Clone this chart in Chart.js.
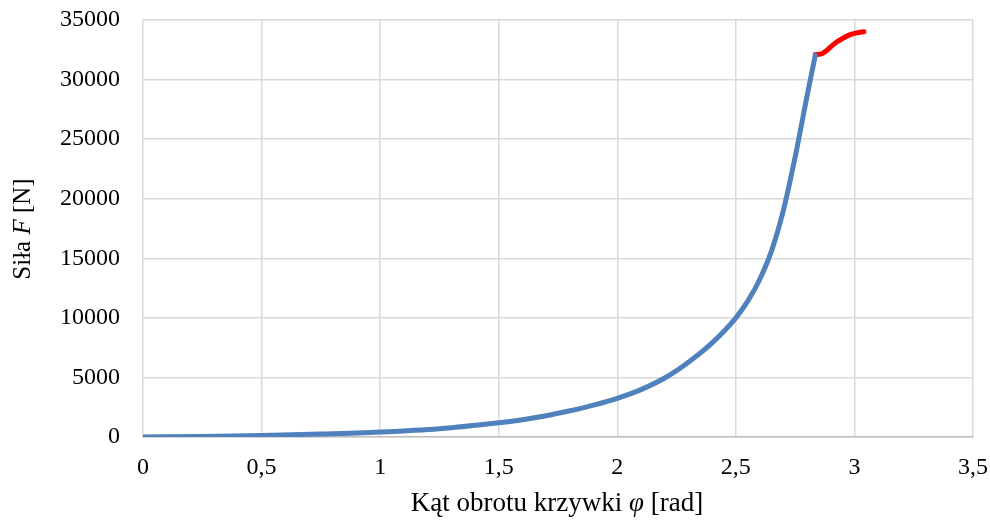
<!DOCTYPE html>
<html>
<head>
<meta charset="utf-8">
<script src="https://cdn.jsdelivr.net/npm/chart.js@4/dist/chart.umd.min.js"></script>
<style>
  html, body { margin: 0; padding: 0; background: #fff; }
  #wrap { width: 990px; height: 522px; }
</style>
</head>
<body>
<div id="wrap"><canvas id="render"></canvas></div>
<script>
// blue part of the curve: angle [rad] / force [N]
const phiMain = [0, 0.25, 0.5, 0.75, 1.0, 1.25, 1.5, 1.6, 1.7, 1.8, 1.9, 2.0, 2.1, 2.2, 2.3, 2.4, 2.5, 2.55, 2.6, 2.65, 2.7, 2.75, 2.8, 2.835];
const forceMain = [0, 50, 130, 250, 420, 700, 1200, 1450, 1780, 2200, 2680, 3250, 3980, 4950, 6280, 7900, 10000, 11400, 13200, 15600, 19000, 23500, 28600, 32050];

// red end part
const phiEnd = [2.835, 2.86, 2.88, 2.9, 2.925, 2.95, 2.98, 3.01, 3.04];
const forceEnd = [32100, 32150, 32400, 32750, 33150, 33450, 33750, 33920, 34020];

const xTicks = [0, 0.5, 1, 1.5, 2, 2.5, 3, 3.5];
const yTicks = [0, 5000, 10000, 15000, 20000, 25000, 30000, 35000];

const serif = "'Liberation Serif', 'Times New Roman', serif";

function pts(xs, ys) {
  return xs.map((x, i) => ({ x: x, y: ys[i] }));
}

// axis titles with italic symbols
const titles = {
  id: 'titles',
  afterDraw(chart) {
    const c = chart.ctx;
    const drawParts = (parts, size, cx, cy) => {
      let w = 0;
      parts.forEach(p => {
        c.font = (p.i ? 'italic ' : '') + size + 'px ' + serif;
        p.w = c.measureText(p.t).width;
        w += p.w;
      });
      let x = cx - w / 2;
      parts.forEach(p => {
        c.font = (p.i ? 'italic ' : '') + size + 'px ' + serif;
        c.fillText(p.t, x, cy);
        x += p.w;
      });
    };
    c.save();
    c.fillStyle = '#000';
    c.textBaseline = 'middle';
    c.textAlign = 'left';
    drawParts([{ t: 'Kąt obrotu krzywki ' }, { t: 'φ', i: true }, { t: ' [rad]' }], 27, 557, 504);
    c.translate(23, 229);
    c.rotate(-Math.PI / 2);
    drawParts([{ t: 'Siła ' }, { t: 'F', i: true }, { t: ' [N]' }], 25, 0, 0);
    c.restore();
  }
};

new Chart(document.getElementById('render'), {
  type: 'scatter',
  data: {
    datasets: [{
      data: pts(phiMain, forceMain),
      showLine: true,
      borderColor: '#4f81bd',
      borderWidth: 5,
      pointRadius: 0,
      cubicInterpolationMode: 'monotone',
      borderCapStyle: 'round'
    }, {
      data: pts(phiEnd, forceEnd),
      showLine: true,
      borderColor: '#ff0000',
      borderWidth: 5,
      pointRadius: 0,
      cubicInterpolationMode: 'monotone',
      borderCapStyle: 'round'
    }]
  },
  options: {
    responsive: true,
    maintainAspectRatio: false,
    animation: false,
    layout: { padding: { top: 20, right: 17, left: 0, bottom: 0 } },
    plugins: { legend: { display: false }, tooltip: { enabled: false } },
    scales: {
      x: {
        type: 'linear',
        min: 0,
        max: 3.5,
        afterBuildTicks: s => { s.ticks = xTicks.map(v => ({ value: v })); },
        afterFit: s => { s.height = 85; s.paddingLeft = 0; s.paddingRight = 0; },
        grid: { color: '#d9d9d9', lineWidth: 1.5, drawTicks: false },
        border: { color: '#bfbfbf', width: 1.5 },
        ticks: {
          padding: 16,
          color: '#000',
          font: { family: serif, size: 24 },
          callback: v => String(v).replace('.', ',')
        }
      },
      y: {
        type: 'linear',
        min: 0,
        max: 35000,
        afterBuildTicks: s => { s.ticks = yTicks.map(v => ({ value: v })); },
        afterFit: s => { s.width = 143; s.paddingTop = 0; s.paddingBottom = 0; },
        grid: { color: '#d9d9d9', lineWidth: 1.5, drawTicks: false },
        border: { display: false },
        ticks: {
          padding: 23,
          color: '#000',
          font: { family: serif, size: 24 },
          callback: v => String(v)
        }
      }
    }
  },
  plugins: [titles]
});
</script>
</body>
</html>
